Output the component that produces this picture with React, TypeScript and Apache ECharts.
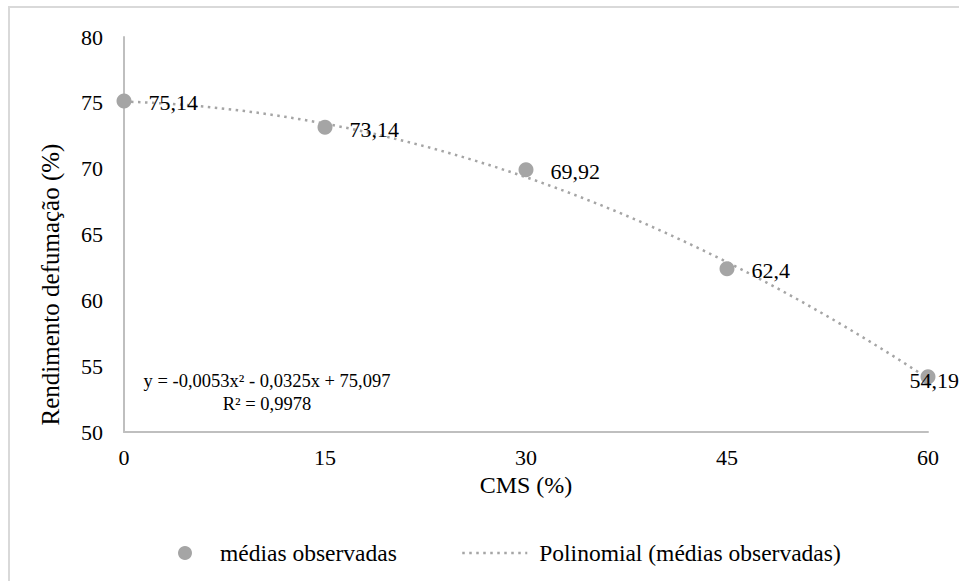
import React, { useEffect, useRef } from "react";
import * as echarts from "echarts";

// Smoked yield (%) observed at each CMS inclusion level (%)
const cmsLevels = [0, 15, 30, 45, 60];
const observedMeans = [75.14, 73.14, 69.92, 62.4, 54.19];
const xTicks = [0, 15, 30, 45, 60];
const yTicks = [50, 55, 60, 65, 70, 75, 80];
// Quadratic trend y = a·x² + b·x + c, coefficients [a, b, c] as printed on the chart
const trendCoefficients = [-0.0053, -0.0325, 75.097];
const trendStep = 0.5;
const equationText = "y = -0,0053x² - 0,0325x + 75,097";
const r2Text = "R² = 0,9978";

const seriesObserved = "médias observadas";
const seriesTrend = "Polinomial (médias observadas)";

const FONT = "Liberation Serif, Times New Roman, serif";
const GREY = "#a5a5a5";

const toPtBr = (v: number) => String(v).replace(".", ",");

export default function App() {
  const ref = useRef<HTMLDivElement>(null);

  useEffect(() => {
    if (!ref.current) return;
    const chart = echarts.init(ref.current, null, { renderer: "svg" });

    const [a, b, c] = trendCoefficients;
    const xMin = xTicks[0];
    const xMax = xTicks[xTicks.length - 1];
    const trendPoints: number[][] = [];
    for (let x = xMin; x <= xMax + 1e-9; x += trendStep) {
      trendPoints.push([x, a * x * x + b * x + c]);
    }

    const observedPoints = cmsLevels.map((x, i) => {
      const last = i === cmsLevels.length - 1;
      return last
        ? {
            value: [x, observedMeans[i]],
            label: { position: [-11, 9], align: "left", verticalAlign: "middle" },
          }
        : { value: [x, observedMeans[i]] };
    });

    chart.setOption({
      animation: false,
      backgroundColor: "#ffffff",
      textStyle: { fontFamily: FONT, color: "#000" },
      grid: { left: 124, right: 31, top: 37, bottom: 149, containLabel: false },
      xAxis: {
        type: "value",
        min: xMin,
        max: xMax,
        interval: xTicks[1] - xTicks[0],
        name: "CMS (%)",
        nameLocation: "middle",
        nameGap: 41,
        nameTextStyle: { fontSize: 24, fontFamily: FONT, color: "#000" },
        axisLine: { show: true, lineStyle: { color: "#bfbfbf", width: 2 } },
        axisTick: { show: false },
        splitLine: { show: false },
        axisLabel: { fontSize: 22, fontFamily: FONT, color: "#000", margin: 14 },
      },
      yAxis: {
        type: "value",
        min: yTicks[0],
        max: yTicks[yTicks.length - 1],
        interval: yTicks[1] - yTicks[0],
        name: "Rendimento defumação (%)",
        nameLocation: "middle",
        nameGap: 61,
        nameTextStyle: {
          fontSize: 25,
          fontFamily: FONT,
          color: "#000",
          padding: [0, 100, 0, 0],
        },
        axisLine: { show: true, lineStyle: { color: "#bfbfbf", width: 2 } },
        axisTick: { show: false },
        splitLine: { show: false },
        axisLabel: { fontSize: 22, fontFamily: FONT, color: "#000", margin: 21 },
      },
      legend: [
        {
          data: [{ name: seriesObserved, icon: "circle" }],
          left: 173,
          top: 536,
          itemWidth: 14,
          itemHeight: 14,
          textStyle: { fontSize: 23.5, fontFamily: FONT, color: "#000", padding: [0, 0, 0, 23] },
          selectedMode: false,
        },
        {
          data: [{ name: seriesTrend, itemStyle: { opacity: 0 } }],
          left: 456,
          top: 536,
          itemWidth: 65,
          itemHeight: 14,
          lineStyle: { color: GREY, width: 2.5, type: [2.5, 4.5] },
          textStyle: { fontSize: 23.5, fontFamily: FONT, color: "#000", padding: [0, 0, 0, 7] },
          selectedMode: false,
        },
      ],
      graphic: [
        {
          type: "rect",
          silent: true,
          z: -10,
          shape: { x: 9, y: 7, width: 1000, height: 1000 },
          style: { fill: "none", stroke: "#d9d9d9", lineWidth: 2 },
        },
        {
          type: "text",
          silent: true,
          x: 267,
          y: 381,
          style: {
            text: equationText,
            font: `18.5px ${FONT}`,
            fill: "#000",
            textAlign: "center",
            textVerticalAlign: "middle",
          },
        },
        {
          type: "text",
          silent: true,
          x: 267,
          y: 404,
          style: {
            text: r2Text,
            font: `18.5px ${FONT}`,
            fill: "#000",
            textAlign: "center",
            textVerticalAlign: "middle",
          },
        },
      ],
      series: [
        {
          name: seriesTrend,
          type: "line",
          data: trendPoints,
          showSymbol: false,
          symbol: "none",
          smooth: false,
          z: 1,
          lineStyle: { color: GREY, width: 2.5, type: [2.5, 4.5] },
          itemStyle: { color: GREY },
        },
        {
          name: seriesObserved,
          type: "scatter",
          data: observedPoints,
          symbol: "circle",
          symbolSize: 15,
          z: 2,
          itemStyle: { color: GREY, opacity: 1 },
          label: {
            show: true,
            position: "right",
            distance: 17,
            offset: [0, 2],
            fontSize: 22,
            fontFamily: FONT,
            color: "#000",
            formatter: (p: any) => toPtBr(p.value[1]),
          },
        },
      ],
    });

    return () => chart.dispose();
  }, []);

  return (
    <div
      ref={ref}
      style={{ position: "fixed", left: 0, top: 0, width: 959, height: 581 }}
    />
  );
}
